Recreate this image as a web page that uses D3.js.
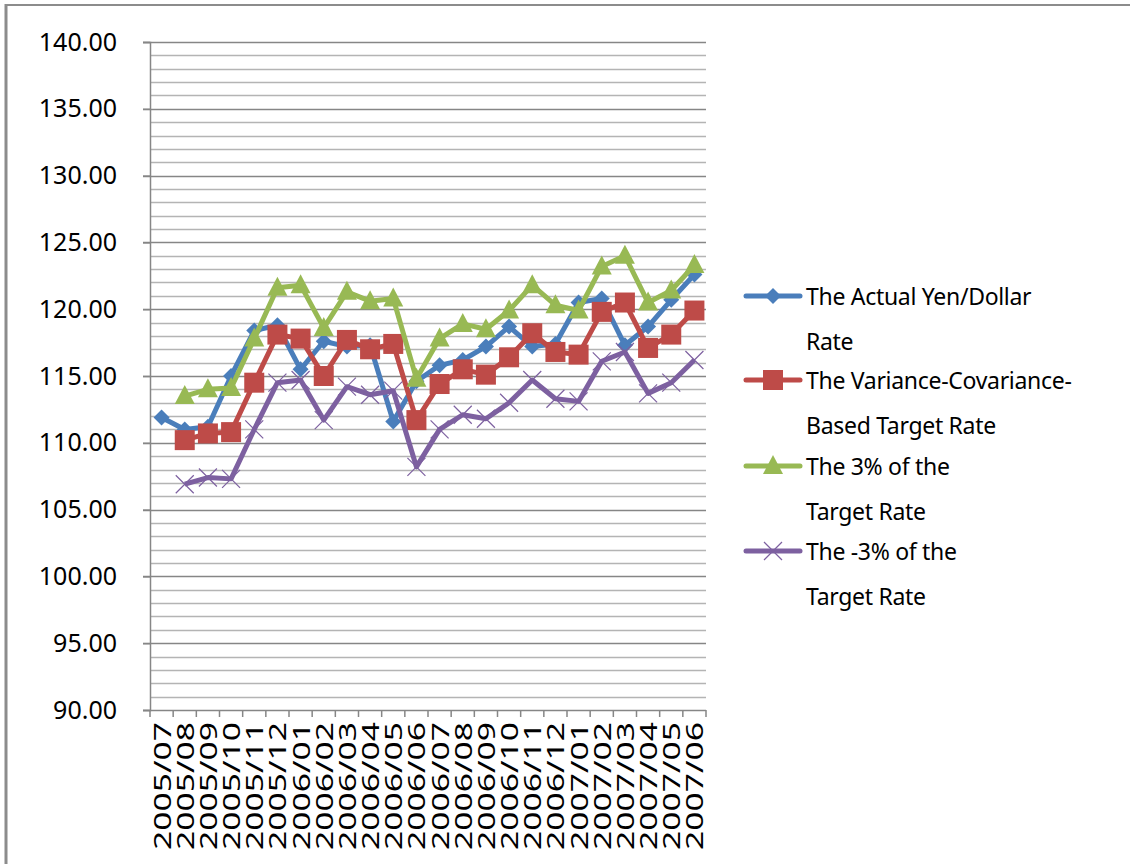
<!DOCTYPE html>
<html>
<head>
<meta charset="utf-8">
<script src="https://cdn.jsdelivr.net/npm/d3@7"></script>
<style>
  body { margin: 0; background: #fff; }
  svg { display: block; font-family: "Noto Sans", "DejaVu Sans", sans-serif; }
</style>
</head>
<body>
<svg id="chart" width="1130" height="864"></svg>
<script>
const months = ['2005/07', '2005/08', '2005/09', '2005/10', '2005/11', '2005/12',
  '2006/01', '2006/02', '2006/03', '2006/04', '2006/05', '2006/06',
  '2006/07', '2006/08', '2006/09', '2006/10', '2006/11', '2006/12',
  '2007/01', '2007/02', '2007/03', '2007/04', '2007/05', '2007/06'];

const actualRate = [111.9, 111.0, 111.2, 115.0, 118.4, 118.8, 115.5, 117.6, 117.2, 117.3, 111.6, 114.6,
  115.8, 116.2, 117.2, 118.7, 117.2, 117.4, 120.5, 120.8, 117.3, 118.7, 120.7, 122.6];
const targetRate = [null, 110.2, 110.7, 110.8, 114.5, 118.1, 117.8, 115.0, 117.7, 117.0, 117.4, 111.7,
  114.4, 115.5, 115.1, 116.4, 118.2, 116.8, 116.6, 119.8, 120.5, 117.1, 118.1, 119.9];
const plus3Rate = [null, 113.5, 114.0, 114.1, 117.8, 121.6, 121.8, 118.6, 121.3, 120.6, 120.8, 114.8,
  117.8, 118.9, 118.5, 119.9, 121.8, 120.3, 119.9, 123.2, 124.0, 120.5, 121.4, 123.3];
const minus3Rate = [null, 106.9, 107.4, 107.3, 111.0, 114.5, 114.7, 111.7, 114.2, 113.6, 113.9, 108.2,
  111.0, 112.1, 111.8, 113.0, 114.7, 113.3, 113.1, 116.1, 116.8, 113.7, 114.5, 116.2];

const seriesNames = [
  ['The Actual Yen/Dollar', 'Rate'],
  ['The Variance-Covariance-', 'Based Target Rate'],
  ['The 3% of the', 'Target Rate'],
  ['The -3% of the', 'Target Rate']
];
const seriesColors = ['#4a7ebb', '#be4b48', '#98b954', '#7d60a0'];
const seriesMarkers = ['diamond', 'square', 'triangle', 'cross'];
const yTicks = [90, 95, 100, 105, 110, 115, 120, 125, 130, 135, 140];

const svg = d3.select('#chart');

// outer frame (left and top only)
svg.append('line').attr('x1', 6).attr('x2', 6).attr('y1', 4).attr('y2', 864)
  .attr('stroke', '#8c8c8c').attr('stroke-width', 3);
svg.append('line').attr('x1', 5).attr('x2', 1130).attr('y1', 5).attr('y2', 5)
  .attr('stroke', '#8c8c8c').attr('stroke-width', 2);

const plot = { left: 150, right: 706, top: 42, bottom: 710 };

const x = d3.scaleBand().domain(months).range([plot.left, plot.right]);
const y = d3.scaleLinear().domain([90, 140]).range([plot.bottom, plot.top]);

// gridlines: minor every 1, major every 5
const g = svg.append('g');
g.selectAll('.minor')
  .data(d3.range(91, 140).filter(v => v % 5 !== 0))
  .join('line')
    .attr('class', 'minor')
    .attr('x1', plot.left).attr('x2', plot.right)
    .attr('y1', v => Math.round(y(v)) + 0.5).attr('y2', v => Math.round(y(v)) + 0.5)
    .attr('stroke', '#b4b4b4').attr('stroke-width', 1.5);
g.selectAll('.major')
  .data(yTicks.slice(1))
  .join('line')
    .attr('class', 'major')
    .attr('x1', plot.left - 7).attr('x2', plot.right)
    .attr('y1', v => Math.round(y(v)) + 0.5).attr('y2', v => Math.round(y(v)) + 0.5)
    .attr('stroke', '#868686').attr('stroke-width', 1.5);

// y axis
const yAxis = svg.append('g')
  .attr('transform', `translate(${plot.left},0)`)
  .call(d3.axisLeft(y).tickValues(yTicks).tickSize(7).tickPadding(26).tickFormat(d3.format('.2f')));
yAxis.select('.domain').attr('stroke', '#868686').attr('stroke-width', 1.5);
yAxis.selectAll('.tick line').attr('stroke', '#868686').attr('stroke-width', 1.5);
yAxis.selectAll('.tick text').attr('font-size', 25).attr('fill', '#000')
  .attr('font-family', '"Noto Sans", sans-serif');

// x axis with ticks at category boundaries
const xAxisG = svg.append('g').attr('transform', `translate(0,${plot.bottom})`);
xAxisG.append('line').attr('x1', plot.left - 7).attr('x2', plot.right)
  .attr('y1', 0.5).attr('y2', 0.5).attr('stroke', '#868686').attr('stroke-width', 1.5);
xAxisG.selectAll('.xtick')
  .data(months.map(m => x(m)).concat([plot.right]))
  .join('line')
    .attr('class', 'xtick')
    .attr('x1', d => d).attr('x2', d => d)
    .attr('y1', 0).attr('y2', 7)
    .attr('stroke', '#868686').attr('stroke-width', 1.5);
xAxisG.selectAll('.xlabel')
  .data(months)
  .join('text')
    .attr('class', 'xlabel')
    .attr('transform', m => `translate(${x(m) + x.bandwidth() / 2 + 9},12) rotate(-90)`)
    .attr('text-anchor', 'end')
    .attr('font-size', 24)
    .attr('textLength', 128)
    .attr('lengthAdjust', 'spacingAndGlyphs')
    .attr('fill', '#000')
    .text(m => m);

// series
const allSeries = [actualRate, targetRate, plus3Rate, minus3Rate];
const cx = i => x(months[i]) + x.bandwidth() / 2;

function drawMarker(sel, type, color) {
  if (type === 'diamond') {
    sel.append('path').attr('d', 'M0,-8L8,0L0,8L-8,0Z').attr('fill', color);
  } else if (type === 'square') {
    sel.append('rect').attr('x', -10).attr('y', -10).attr('width', 20).attr('height', 20).attr('fill', color);
  } else if (type === 'triangle') {
    sel.append('path').attr('d', 'M0,-11L10,8L-10,8Z').attr('fill', color);
  } else {
    sel.append('path').attr('d', 'M-9,-9L9,9M-9,9L9,-9').attr('stroke', color).attr('stroke-width', 1.2)
      .attr('fill', 'none');
  }
}

const line = d3.line()
  .defined(d => d.v !== null)
  .x(d => cx(d.i))
  .y(d => y(d.v));

allSeries.forEach((vals, s) => {
  const pts = vals.map((v, i) => ({ i, v }));
  svg.append('path')
    .datum(pts)
    .attr('d', line)
    .attr('fill', 'none')
    .attr('stroke', seriesColors[s])
    .attr('stroke-width', 5)
    .attr('stroke-linejoin', 'round');
  pts.filter(d => d.v !== null).forEach(d => {
    const m = svg.append('g').attr('transform', `translate(${cx(d.i)},${y(d.v)})`);
    drawMarker(m, seriesMarkers[s], seriesColors[s]);
  });
});

// legend
const legendTop = [296, 380, 466, 551];
seriesNames.forEach((lines, s) => {
  const ly = legendTop[s];
  svg.append('line').attr('x1', 746).attr('x2', 800).attr('y1', ly).attr('y2', ly)
    .attr('stroke', seriesColors[s]).attr('stroke-width', 5).attr('stroke-linecap', 'round');
  const m = svg.append('g').attr('transform', `translate(773,${ly})`);
  drawMarker(m, seriesMarkers[s], seriesColors[s]);
  lines.forEach((t, k) => {
    svg.append('text')
      .attr('x', 806).attr('y', ly + 9 + k * 45)
      .attr('font-size', 23)
      .attr('letter-spacing', -0.3)
      .attr('fill', '#000')
      .text(t);
  });
});
</script>
</body>
</html>
